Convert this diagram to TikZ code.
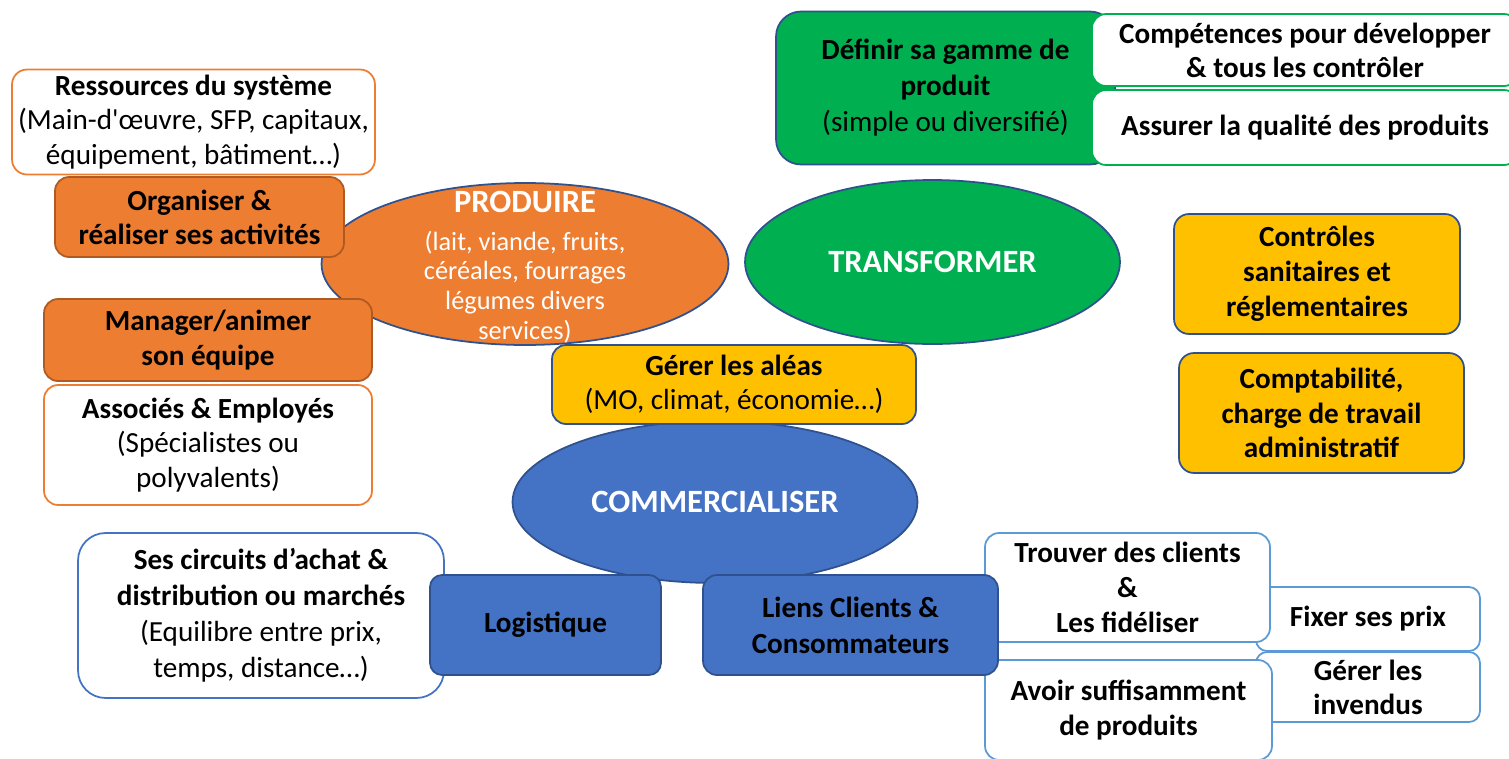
\documentclass[tikz,border=0pt]{standalone}
\usepackage{fontspec}
\setmainfont{Carlito}
\usetikzlibrary{shapes.geometric}
\definecolor{orangefill}{HTML}{ED7D31}
\definecolor{orangeedge}{HTML}{AE5A21}
\definecolor{greenfill}{HTML}{00B050}
\definecolor{yellowfill}{HTML}{FFC000}
\definecolor{bluefill}{HTML}{4472C4}
\definecolor{darkedge}{HTML}{2F528F}
\definecolor{lightedge}{HTML}{5B9BD5}

\begin{document}
\begin{tikzpicture}[x=0.02cm, y=-0.02cm,
  every node/.style={font=\fontsize{16.6}{19.5}\selectfont, align=center, line width=1pt, inner sep=0pt},
  whitebox/.style={draw=#1, fill=white, rounded corners=0.28cm},
  orangebox/.style={draw=orangeedge, fill=orangefill, rounded corners=0.28cm},
  yellowbox/.style={draw=darkedge, fill=yellowfill, rounded corners=0.3cm},
  bluebox/.style={draw=darkedge, fill=bluefill, rounded corners=0.28cm},
  bigellipse/.style={ellipse, draw=darkedge, fill=#1},
  ellipsetext/.style={text=white, font=\fontsize{18.5}{21}\selectfont\bfseries},
  boldtext/.style={font=\fontsize{16.6}{19.5}\selectfont\bfseries}]

  \useasboundingbox (0,0) rectangle (1509,758);
  \clip (0,0) rectangle (1509,758);
  \fill[white] (0,0) rectangle (1509,758);

  \node[whitebox=orangefill, rounded corners=0.3cm, minimum width=7.26cm, minimum height=2.1cm] (ressources) at (193.5,122) {\textbf{Ressources du système}\\(Main-d\textquotesingle œuvre, SFP, capitaux,\\équipement, bâtiment…)};
  \node[bigellipse=orangefill, minimum width=8.14cm, minimum height=3.24cm] (produire) at (525,264) {};
  \node[text=white, font=\fontsize{15}{17}\selectfont] (produiretxt) at (525,267) {{\fontsize{18.5}{21}\selectfont\bfseries PRODUIRE}\\[4.6pt](lait, viande, fruits,\\céréales, fourrages\\légumes divers\\services)};
  \node[orangebox, boldtext, minimum width=5.78cm, minimum height=1.6cm] (organiser) at (199.5,217) {Organiser \&\\réaliser ses activités};
  \node[orangebox, boldtext, minimum width=6.56cm, minimum height=1.64cm] (manager) at (208,340) {Manager/animer\\son équipe};
  \node[whitebox=orangefill, minimum width=6.56cm, minimum height=2.4cm] (associes) at (208,445) {\textbf{Associés \& Employés}\\(Spécialistes ou\\polyvalents)};

  \node[bigellipse=greenfill, ellipsetext, minimum width=7.5cm, minimum height=3.28cm] (transformer) at (932.5,262) {TRANSFORMER};
  \node[draw=darkedge, fill=greenfill, rounded corners=0.5cm, font=\fontsize{16.6}{20.5}\selectfont, minimum width=6.78cm, minimum height=3.06cm] (gamme) at (945.5,88) {\textbf{Définir sa gamme de}\\\textbf{produit}\\(simple ou diversifié)};
  \node[whitebox=greenfill, boldtext, minimum width=8.52cm, minimum height=1.44cm] (competences) at (1305,50) {Compétences pour développer\\\& tous les contrôler};
  \node[whitebox=greenfill, boldtext, minimum width=8.52cm, minimum height=1.5cm] (qualite) at (1305,127.5) {Assurer la qualité des produits};
  \node[yellowbox, font=\fontsize{16.6}{20}\selectfont\bfseries, minimum width=5.72cm, minimum height=2.4cm] (controles) at (1317,274) {Contrôles\\sanitaires et\\réglementaires};
  \node[yellowbox, font=\fontsize{16.6}{19.5}\selectfont\bfseries, minimum width=5.7cm, minimum height=2.4cm] (comptabilite) at (1321.5,413) {Comptabilité,\\charge de travail\\administratif};

  \node[bigellipse=bluefill, ellipsetext, minimum width=8.1cm, minimum height=3.24cm] (commercialiser) at (715,502) {COMMERCIALISER};
  \node[yellowbox, rounded corners=0.28cm, minimum width=7.28cm, minimum height=1.58cm] (aleas) at (734,384.5) {\textbf{Gérer les aléas}\\(MO, climat, économie…)};
  \node[whitebox=bluefill, rounded corners=0.55cm, font=\fontsize{16.6}{20.5}\selectfont, minimum width=7.32cm, minimum height=3.3cm] (circuits) at (261,615.5) {\textbf{Ses circuits d’achat \&}\\\textbf{distribution ou marchés}\\(Equilibre entre prix,\\temps, distance…)};
  \node[bluebox, boldtext, rounded corners=0.24cm, minimum width=4.62cm, minimum height=2cm] (logistique) at (545.5,625) {Logistique};
  \node[whitebox=lightedge, boldtext, rounded corners=0.22cm, minimum width=4.48cm, minimum height=1.28cm] (prix) at (1368,619) {Fixer ses prix};
  \node[whitebox=lightedge, boldtext, rounded corners=0.22cm, minimum width=4.48cm, minimum height=1.4cm] (invendus) at (1368,687) {Gérer les\\invendus};
  \node[whitebox=lightedge, font=\fontsize{16.6}{20}\selectfont\bfseries, minimum width=5.7cm, minimum height=2.18cm] (clients) at (1127.5,587.5) {Trouver des clients\\\&\\Les fidéliser};
  \node[whitebox=lightedge, boldtext, minimum width=5.74cm, minimum height=2cm] (produits) at (1128.5,710) {Avoir suffisamment\\de produits};
  \node[bluebox, font=\fontsize{16.6}{20.5}\selectfont\bfseries, minimum width=5.9cm, minimum height=2cm] (liens) at (850.5,625) {Liens Clients \&\\Consommateurs};
\end{tikzpicture}
\end{document}
